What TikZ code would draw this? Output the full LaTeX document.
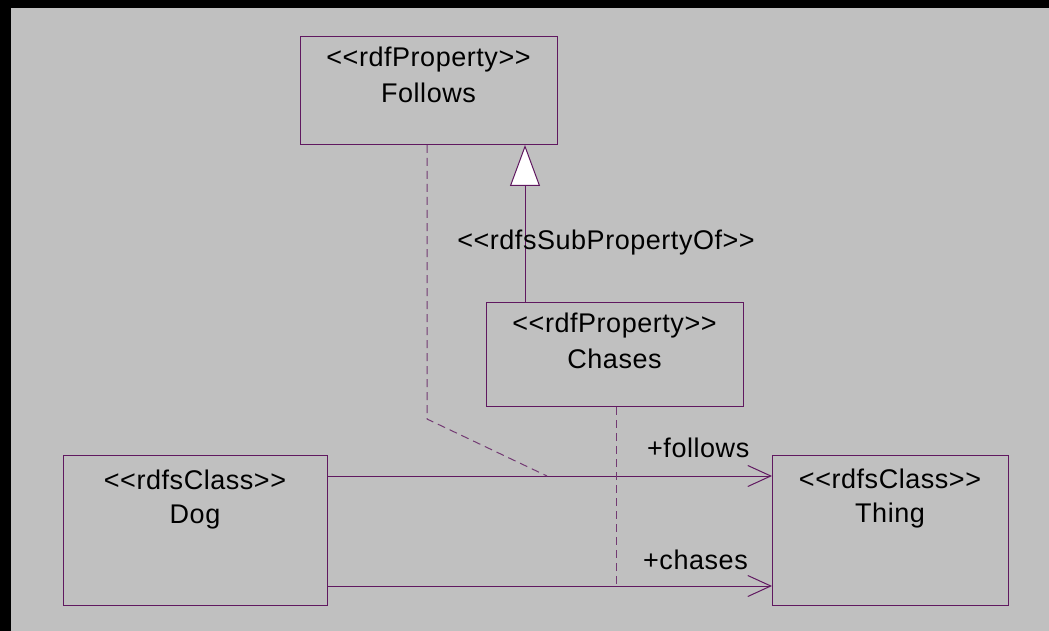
\documentclass[tikz,border=0pt]{standalone}
\usepackage{fontspec}
\setmainfont{Liberation Sans}[Ligatures=TeXOff, LetterSpace=2]
\usetikzlibrary{arrows.meta}
\definecolor{umlline}{RGB}{96,24,96}
\definecolor{canvas}{RGB}{192,192,192}
\tikzset{
  classbox/.style={draw=umlline, line width=1pt, inner sep=0pt, anchor=north west},
  txt/.style={font=\fontsize{27}{32}\selectfont, text=black, inner sep=0pt, anchor=base},
  assoc/.style={draw=umlline, line width=1pt, -{Straight Barb[length=23pt,width=21pt]}},
  gen/.style={draw=umlline, line width=1pt, -{Triangle[length=41pt,width=30pt,fill=white]}},
  dep/.style={draw=umlline!80!canvas, line width=1pt, dash pattern=on 8pt off 5pt}
}
\begin{document}
\begin{tikzpicture}[x=1pt,y=-1pt]
% frame and canvas
\fill[black] (0,0) rectangle (1049,631);
\fill[canvas] (11,8) rectangle (1049,631);

% class and property boxes
\node[classbox, minimum width=257pt, minimum height=108pt] (follows) at (300,36) {};
\node[classbox, minimum width=257pt, minimum height=104pt] (chases) at (486,302) {};
\node[classbox, minimum width=264pt, minimum height=150pt] (dog) at (63,455) {};
\node[classbox, minimum width=236pt, minimum height=150pt] (thing) at (772,455) {};

% box texts
\node[txt] (followsS) at (428.5,67) {<<rdfProperty>>};
\node[txt] (followsN) at (428.5,103) {Follows};
\node[txt] (chasesS) at (614.5,332) {<<rdfProperty>>};
\node[txt] (chasesN) at (614.5,368) {Chases};
\node[txt] (dogS) at (195,489) {<<rdfsClass>>};
\node[txt] (dogN) at (195,523) {Dog};
\node[txt] (thingS) at (890,488) {<<rdfsClass>>};
\node[txt] (thingN) at (890,522) {Thing};

% sub-property generalization
\draw[gen] ([xshift=39pt]chases.north west) -- ([xshift=39pt]chases.north west |- follows.south);
\node[txt] (subprop) at (606,249) {<<rdfsSubPropertyOf>>};

% associations
\draw[assoc] ([yshift=-21pt]dog.north east) -- ([yshift=-21pt]dog.north east -| thing.west);
\draw[assoc] ([yshift=-131pt]dog.north east) -- ([yshift=-131pt]dog.north east -| thing.west);
\node[txt, anchor=base west] (lblF) at (647,457) {+follows};
\node[txt, anchor=base west] (lblC) at (643,569) {+chases};

% association class links
\coordinate (assocF) at (547,476);
\coordinate (assocC) at (616,586);
\draw[dep] ([xshift=127pt]follows.south west) -- ++(0,274) -- (assocF);
\draw[dep] (chases.south -| assocC) -- (assocC);
\end{tikzpicture}
\end{document}
